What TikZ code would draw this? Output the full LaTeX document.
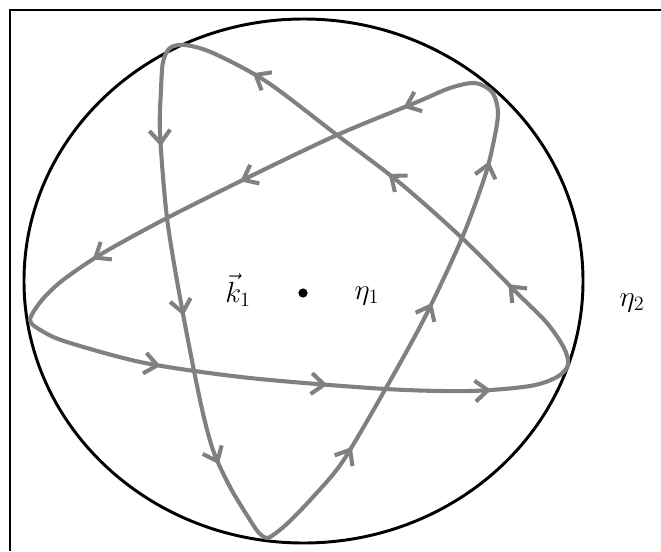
\documentclass[tikz,border=0pt]{standalone}
\usetikzlibrary{arrows.meta,decorations.markings}
\begin{document}
\begin{tikzpicture}[x=0.025cm, y=-0.025cm,
    orbit/.style={line width=2.9pt, draw=gray, line join=round},
    arrowat/.style={postaction={decorate, decoration={markings,
        mark=at position #1*0.025cm with {\arrow{Straight Barb[length=0.32cm, width=0.52cm]}}}}},
    lbl/.style={inner sep=0pt, font=\huge},
    dotmark/.style={circle, fill, inner sep=0pt, minimum size=2.3mm}]
    \useasboundingbox (0,0) rectangle (661,551);

    % frame
    \draw[line width=1pt] (10,551) -- (10,10) -- (661,10);

    % boundary circle
    \draw[line width=2.1pt] (303.5,281) ellipse [x radius=279.5, y radius=262];

    % five-pointed orbit
    \draw[orbit, arrowat/.list={124,292,456,643,806,975,1165,1336,1489,1704,1869,2022,2189,2368,2535}]
        plot[smooth cycle] coordinates {(30,320) (42,331) (67,342) (145,363) (250,378)
        (386,389) (470,391) (530,386) (557,377) (568,365) (564,348) (547,323)
        (517,293) (462,238) (400,183) (337,135) (267,82) (213,53) (185,45)
        (170,48) (163,62) (161,90) (160,133) (167,218) (181,303) (200,400)
        (213,450) (230,487) (250,520) (259,533) (267,538) (276,533) (290,521)
        (313,497) (343,461) (386,388) (425,317) (462,238) (485,176) (494,140)
        (498,112) (492,92) (475,83) (450,88) (417,102) (337,135) (253,175)
        (167,218) (103,253) (63,280) (42,300)};

    % centre and labels
    \node[dotmark] (origin) at (303,293) {};
    \node[lbl] (kvec) at (238,290) {$\vec{k}_1$};
    \node[lbl] (eta1) at (367,296) {$\eta_1$};
    \node[lbl] (eta2) at (632,303) {$\eta_2$};
\end{tikzpicture}
\end{document}
